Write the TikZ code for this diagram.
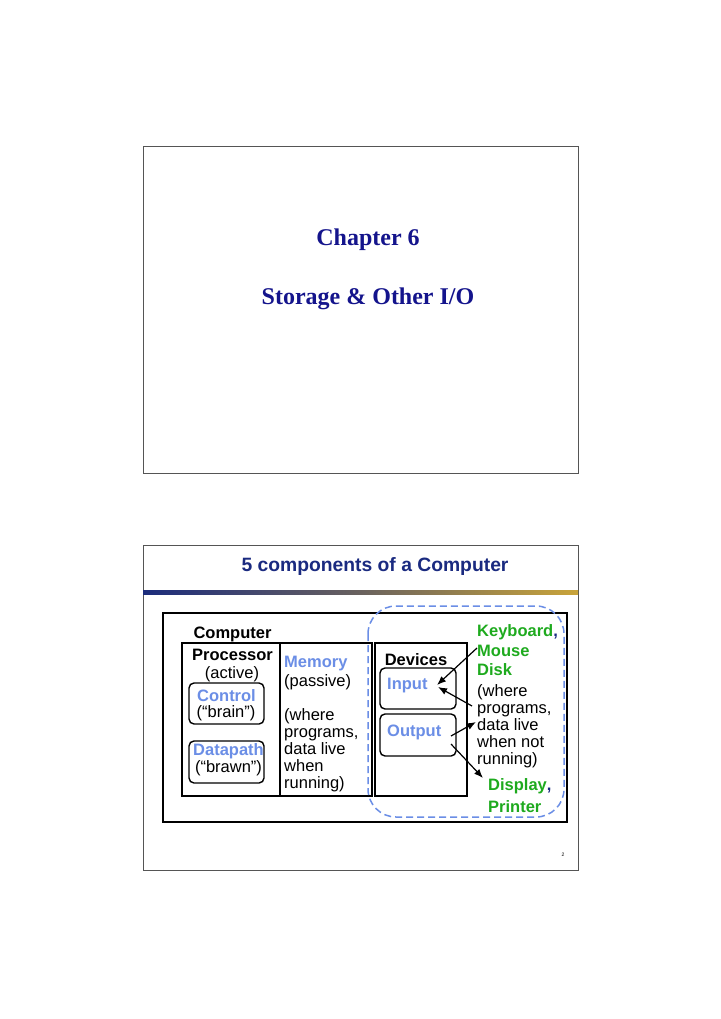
\documentclass[tikz,border=0pt]{standalone}
\usepackage{fontspec}
\setmainfont{Liberation Sans}
\newfontfamily\timesf{Liberation Serif}
\usetikzlibrary{arrows.meta}
\definecolor{navy}{HTML}{14148C}
\definecolor{titleblue}{HTML}{1A2A80}
\definecolor{lblue}{HTML}{6B8EE6}
\definecolor{dgreen}{HTML}{1EAA1E}
\definecolor{gold}{HTML}{C9A43A}
\definecolor{barblue}{HTML}{1C2C7C}
\definecolor{frame}{HTML}{555555}
\begin{document}
\begin{tikzpicture}[x=1pt,y=-1pt,
  txt/.style={inner sep=0pt,font=\fontsize{16.5}{17}\selectfont},
  btxt/.style={inner sep=0pt,font=\fontsize{16.5}{17}\selectfont\bfseries},
  bluetxt/.style={btxt,text=lblue},
  greentxt/.style={btxt,text=dgreen},
  bigbox/.style={draw=black,line width=1.8pt},
  rbox/.style={draw=black,line width=1.4pt,rounded corners=5pt},
  arr/.style={draw=black,line width=1.2pt,-{Latex[length=9pt,width=7pt]}},
  slide/.style={draw=frame,line width=1pt}]
\useasboundingbox (0,0) rectangle (720,1019);
\fill[white] (0,0) rectangle (720,1019);
% slide 1
\draw[slide] (143,147) rectangle (578,473);
\node[inner sep=0pt,font=\timesf\bfseries\fontsize{24}{28}\selectfont,text=navy,anchor=base] (ch) at (368,245) {Chapter 6};
\node[inner sep=0pt,font=\timesf\bfseries\fontsize{24}{28}\selectfont,text=navy,anchor=base] (st) at (368,304) {Storage \& Other I/O};
% slide 2
\draw[slide] (143,545) rectangle (578,870);
\node[inner sep=0pt,font=\fontsize{19.3}{22}\selectfont\bfseries,text=titleblue,anchor=base] (title) at (375,571.5) {5 components of a Computer};
\shade[left color=barblue,right color=gold,middle color=barblue!55!gold] (143,590) rectangle (578,594.5);
% boxes
\draw[bigbox] (163,613) rectangle (567,822);
\draw[bigbox] (182,643) rectangle (280,796);
\draw[bigbox] (280,643) rectangle (372,796);
\draw[bigbox] (375,643) rectangle (467,796);
\draw[rbox] (189,683) rectangle (264,724);
\draw[rbox] (189,741) rectangle (264,783);
\draw[rbox] (380,668) rectangle (456,709);
\draw[rbox] (380,714) rectangle (456,756);
\draw[lblue,line width=1.5pt,dash pattern=on 7pt off 4pt,rounded corners=28pt] (368,606) rectangle (564,817);
% processor column
\node[btxt,anchor=base] (computer) at (232.5,638.5) {Computer};
\node[btxt,anchor=base] (processor) at (232.5,660.5) {Processor};
\node[txt,anchor=base] (active) at (232,678) {(active)};
\node[bluetxt,anchor=base] (control) at (226.5,701.5) {Control};
\node[txt,anchor=base] (brain) at (226,717) {(“brain”)};
\node[bluetxt,anchor=base] (datapath) at (228.5,755) {Datapath};
\node[txt,anchor=base] (brawn) at (228.5,772) {(“brawn”)};
% memory column
\node[bluetxt,anchor=base west] (memory) at (284,667.5) {Memory};
\node[txt,anchor=base west] (passive) at (284,686.5) {(passive)};
\node[txt,anchor=base west] (m1) at (284,720.5) {(where};
\node[txt,anchor=base west] (m2) at (284,737.5) {programs,};
\node[txt,anchor=base west] (m3) at (284,754.5) {data live};
\node[txt,anchor=base west] (m4) at (284,771.5) {when};
\node[txt,anchor=base west] (m5) at (284,788.5) {running)};
% devices
\node[btxt,anchor=base] (devices) at (416,665.5) {Devices};
\node[bluetxt,anchor=base west] (input) at (387,689.5) {Input};
\node[bluetxt,anchor=base west] (output) at (387,736) {Output};
% right texts
\node[greentxt,anchor=base west] (keyboard) at (477,636) {Keyboard\textcolor{titleblue}{,}};
\node[greentxt,anchor=base west] (mouse) at (477,656) {Mouse};
\node[greentxt,anchor=base west] (disk) at (477,675) {Disk};
\node[txt,anchor=base west] (d1) at (477,696) {(where};
\node[txt,anchor=base west] (d2) at (477,713) {programs,};
\node[txt,anchor=base west] (d3) at (477,730) {data live};
\node[txt,anchor=base west] (d4) at (477,747) {when not};
\node[txt,anchor=base west] (d5) at (477,764) {running)};
\node[greentxt,anchor=base west] (display) at (488,790.5) {Display\textcolor{titleblue}{,}};
\node[greentxt,anchor=base west] (printer) at (488,812) {Printer};
\node[inner sep=0pt,font=\fontsize{5}{6}\selectfont] (pagenum) at (563,855) {2};
% arrows
\coordinate (a1s) at (477,648);
\coordinate (a1e) at (437,685);
\coordinate (a2s) at (472,706);
\coordinate (a2e) at (438,687);
\coordinate (a3s) at (451,736);
\coordinate (a3e) at (476,722);
\coordinate (a4s) at (451,744);
\coordinate (a4e) at (483,778);
\draw[arr] (a1s) -- (a1e);
\draw[arr] (a2s) -- (a2e);
\draw[arr] (a3s) -- (a3e);
\draw[arr] (a4s) -- (a4e);
\end{tikzpicture}
\end{document}
